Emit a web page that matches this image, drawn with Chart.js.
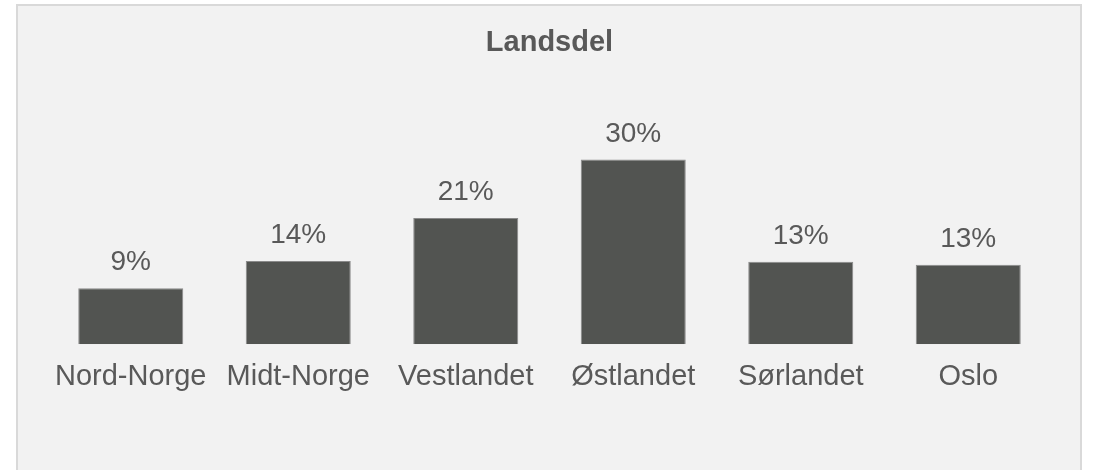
<!DOCTYPE html>
<html>
<head>
<meta charset="utf-8">
<script src="https://cdn.jsdelivr.net/npm/chart.js@4/dist/chart.umd.min.js"></script>
<style>
  html, body { margin: 0; padding: 0; background: #ffffff; }
  #panel {
    position: absolute; left: 16px; top: 4px; width: 1066px; height: 480px;
    box-sizing: border-box; background: #f2f2f2; border: 2px solid #d9d9d9;
  }
  #wrap { position: absolute; left: 0; top: 0; width: 1094px; height: 470px; }
</style>
</head>
<body>
<div id="panel"></div>
<div id="wrap"><canvas id="chart"></canvas></div>
<script>
  const regions = ['Nord-Norge', 'Midt-Norge', 'Vestlandet', 'Østlandet', 'Sørlandet', 'Oslo'];
  const shares = [9.1, 13.5, 20.5, 30.0, 13.4, 12.9];

  const textColor = '#595959';
  const fontFamily = '"Liberation Sans", Arial, sans-serif';

  // percent labels above each bar
  const valueLabels = {
    id: 'valueLabels',
    afterDatasetsDraw(chart) {
      const ctx = chart.ctx;
      const meta = chart.getDatasetMeta(0);
      ctx.save();
      ctx.font = '28px ' + fontFamily;
      ctx.fillStyle = textColor;
      ctx.textAlign = 'center';
      ctx.textBaseline = 'alphabetic';
      meta.data.forEach((bar, i) => {
        ctx.fillText(Math.round(shares[i]) + '%', bar.x, bar.y - 18);
      });
      ctx.restore();
    }
  };

  new Chart(document.getElementById('chart'), {
    type: 'bar',
    data: {
      labels: regions,
      datasets: [{
        data: shares,
        backgroundColor: '#525451',
        borderColor: '#8a8a8a',
        borderWidth: 1,
        barPercentage: 1,
        categoryPercentage: 0.627
      }]
    },
    options: {
      responsive: true,
      maintainAspectRatio: false,
      animation: false,
      layout: { padding: { left: 47, right: 42, top: 0, bottom: 61 } },
      plugins: {
        legend: { display: false },
        tooltip: { enabled: false },
        title: {
          display: true,
          text: 'Landsdel',
          color: textColor,
          font: { family: fontFamily, size: 29, weight: 'bold' },
          padding: { top: 26, bottom: 68 }
        }
      },
      scales: {
        x: {
          grid: { display: false, drawTicks: false },
          border: { display: false },
          ticks: {
            color: textColor,
            font: { family: fontFamily, size: 29 },
            padding: 15,
            maxRotation: 0,
            autoSkip: false
          }
        },
        y: { display: false, min: 0, max: 35 }
      }
    },
    plugins: [valueLabels]
  });
</script>
</body>
</html>
